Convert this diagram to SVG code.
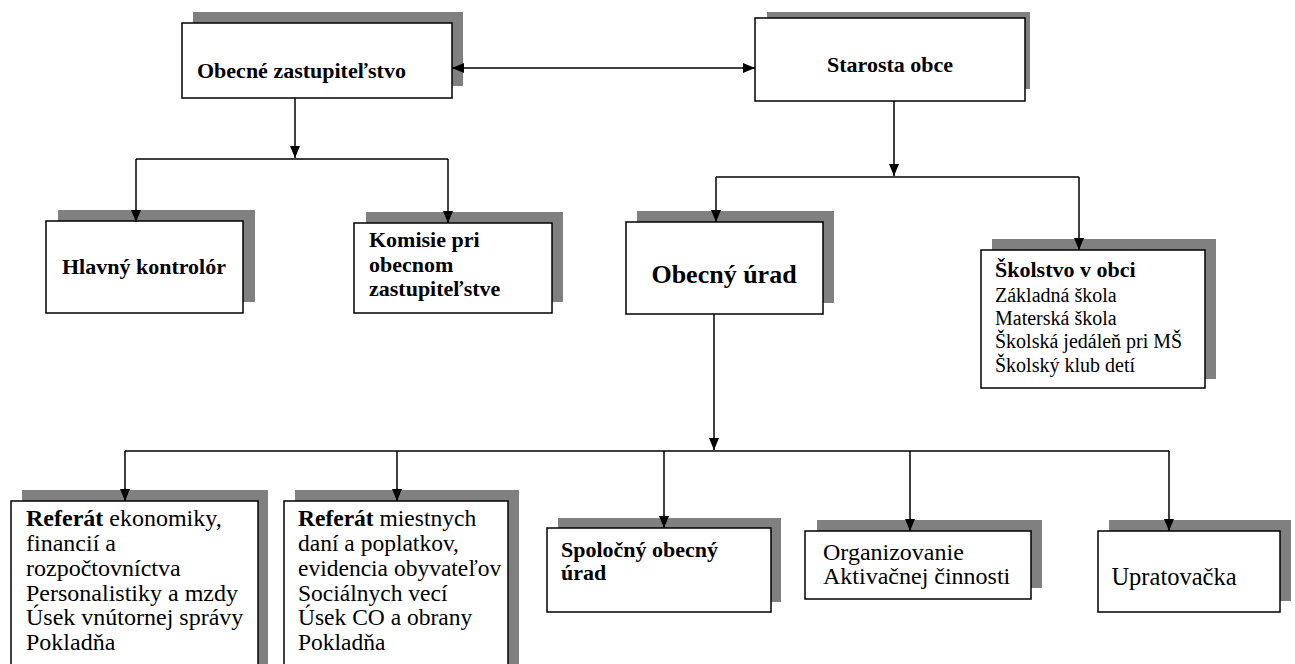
<svg xmlns="http://www.w3.org/2000/svg" width="1295" height="664" viewBox="0 0 1295 664">
<style>
.sh{fill:#808080;stroke:none}
.bx{fill:#fff;stroke:#000;stroke-width:1.5}
.t{font-family:"Liberation Serif","Times New Roman","DejaVu Serif",serif;fill:#000}
.b{font-weight:bold}
.c{fill:none;stroke:#000;stroke-width:1.5}
</style>
<defs>
<marker id="ah" markerUnits="userSpaceOnUse" markerWidth="12" markerHeight="10" refX="12" refY="5" orient="auto" overflow="visible">
<path d="M0,0 L12,5 L0,10 z" fill="#000"/>
</marker>
<marker id="as" markerUnits="userSpaceOnUse" markerWidth="12" markerHeight="10" refX="0" refY="5" orient="auto" overflow="visible">
<path d="M12,0 L0,5 L12,10 z" fill="#000"/>
</marker>
</defs>
<rect width="1295" height="664" fill="#fff"/>

<g id="zastupitelstvo">
<rect class="sh" x="193" y="12" width="270" height="74"/>
<rect class="bx" x="182" y="23" width="270" height="75"/>
<text class="t b" x="197" y="78" font-size="22">Obecné zastupiteľstvo</text>
</g>

<g id="starosta">
<rect class="sh" x="767" y="12" width="263" height="77"/>
<rect class="bx" x="755" y="18" width="270" height="83"/>
<text class="t b" x="890" y="72" font-size="22" text-anchor="middle">Starosta obce</text>
</g>

<g id="kontrolor">
<rect class="sh" x="58" y="210" width="197" height="92"/>
<rect class="bx" x="46" y="221" width="197" height="92"/>
<text class="t b" x="144" y="274" font-size="22" text-anchor="middle">Hlavný kontrolór</text>
</g>

<g id="komisie">
<rect class="sh" x="366" y="212" width="197" height="90"/>
<rect class="bx" x="354" y="223" width="198" height="90"/>
<text class="t b" font-size="22"><tspan x="369" y="247">Komisie pri</tspan><tspan x="369" y="272">obecnom</tspan><tspan x="369" y="296">zastupiteľstve</tspan></text>
</g>

<g id="urad">
<rect class="sh" x="637" y="211" width="197" height="92"/>
<rect class="bx" x="626" y="222" width="197" height="92"/>
<text class="t b" x="724" y="283" font-size="26" text-anchor="middle">Obecný úrad</text>
</g>

<g id="skolstvo">
<rect class="sh" x="992" y="239" width="224" height="140"/>
<rect class="bx" x="981" y="250" width="224" height="138"/>
<text class="t" font-size="20"><tspan class="b" x="995" y="277" font-size="22">Školstvo v obci</tspan><tspan x="995" y="302">Základná škola</tspan><tspan x="995" y="325">Materská škola</tspan><tspan x="995" y="348">Školská jedáleň pri MŠ</tspan><tspan x="995" y="372">Školský klub detí</tspan></text>
</g>

<g id="referat1">
<rect class="sh" x="22" y="490" width="246" height="180"/>
<rect class="bx" x="11" y="501" width="247" height="170"/>
<text class="t" font-size="24"><tspan x="26" y="526"><tspan class="b">Referát</tspan> ekonomiky,</tspan><tspan x="26" y="551">financií a</tspan><tspan x="26" y="576">rozpočtovníctva</tspan><tspan x="26" y="601">Personalistiky a mzdy</tspan><tspan x="26" y="625">Úsek vnútornej správy</tspan><tspan x="26" y="650">Pokladňa</tspan></text>
</g>

<g id="referat2">
<rect class="sh" x="295" y="490" width="224" height="180"/>
<rect class="bx" x="284" y="501" width="224" height="170"/>
<text class="t" font-size="23.5"><tspan x="298" y="526"><tspan class="b">Referát</tspan> miestnych</tspan><tspan x="298" y="551">daní a poplatkov,</tspan><tspan x="298" y="576">evidencia obyvateľov</tspan><tspan x="298" y="601">Sociálnych vecí</tspan><tspan x="298" y="625">Úsek CO a obrany</tspan><tspan x="298" y="650">Pokladňa</tspan></text>
</g>

<g id="spolocny">
<rect class="sh" x="558" y="518" width="223" height="84"/>
<rect class="bx" x="547" y="528" width="224" height="84"/>
<text class="t b" font-size="22"><tspan x="561" y="557">Spoločný obecný</tspan><tspan x="561" y="580">úrad</tspan></text>
</g>

<g id="aktivacne">
<rect class="sh" x="817" y="520" width="225" height="68"/>
<rect class="bx" x="805" y="531" width="226" height="68"/>
<text class="t" font-size="24"><tspan x="823" y="560">Organizovanie</tspan><tspan x="823" y="584">Aktivačnej činnosti</tspan></text>
</g>

<g id="upratovacka">
<rect class="sh" x="1109" y="520" width="182" height="81"/>
<rect class="bx" x="1098" y="531" width="182" height="81"/>
<text class="t" x="1174" y="585" font-size="24.5" text-anchor="middle">Upratovačka</text>
</g>

<g id="connectors">
<line class="c" x1="452" y1="68" x2="755" y2="68" marker-start="url(#as)" marker-end="url(#ah)"/>
<line class="c" x1="295" y1="98" x2="295" y2="158" marker-end="url(#ah)"/>
<line class="c" x1="136" y1="159" x2="448" y2="159"/>
<line class="c" x1="136" y1="159" x2="136" y2="222" marker-end="url(#ah)"/>
<line class="c" x1="448" y1="159" x2="448" y2="223" marker-end="url(#ah)"/>
<line class="c" x1="894" y1="101" x2="894" y2="176" marker-end="url(#ah)"/>
<line class="c" x1="716" y1="177" x2="1079" y2="177"/>
<line class="c" x1="716" y1="177" x2="716" y2="222" marker-end="url(#ah)"/>
<line class="c" x1="1079" y1="177" x2="1079" y2="250" marker-end="url(#ah)"/>
<line class="c" x1="714" y1="314" x2="714" y2="450" marker-end="url(#ah)"/>
<line class="c" x1="125" y1="451" x2="1169" y2="451"/>
<line class="c" x1="125" y1="451" x2="125" y2="501" marker-end="url(#ah)"/>
<line class="c" x1="397" y1="451" x2="397" y2="501" marker-end="url(#ah)"/>
<line class="c" x1="664" y1="451" x2="664" y2="528" marker-end="url(#ah)"/>
<line class="c" x1="910" y1="451" x2="910" y2="531" marker-end="url(#ah)"/>
<line class="c" x1="1169" y1="451" x2="1169" y2="531" marker-end="url(#ah)"/>
</g>
</svg>
